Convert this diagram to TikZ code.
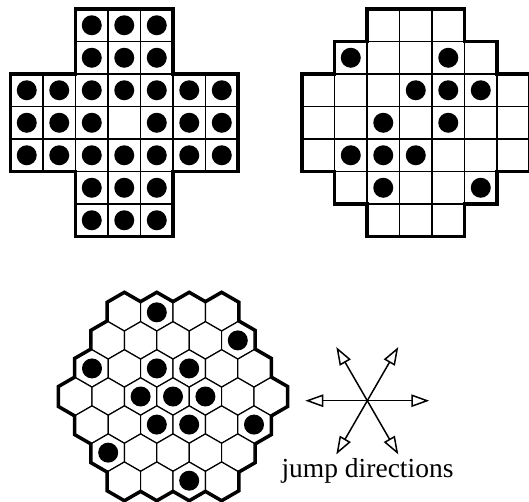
\documentclass[tikz,border=0pt]{standalone}
\usepackage{fontspec}
\setmainfont{Liberation Serif}
\usetikzlibrary{arrows.meta}
\tikzset{
  gridcell/.style={draw=black,line width=1.2pt},
  outline/.style={draw=black,line width=3.4pt,line join=miter},
  peg/.style={fill=black},
  hexthick/.style={draw=black,line width=5.8pt},
  hexcell/.style={fill=white,draw=black,line width=1.2pt},
  jumparrow/.style={draw=black,line width=1.5pt,-{Triangle[open,length=18pt,width=12.5pt]}},
}
\newcommand\hexcells[1]{%
  \foreach \r in {0,...,6}{%
    \pgfmathtruncatemacro\n{7-abs(\r-3)}%
    \foreach \i in {1,...,\n}{%
      \pgfmathsetmacro\hx{173+(\i-1-(\n-1)/2)*32.4}%
      \pgfmathsetmacro\hy{396.5+(\r-3)*28.06}%
      \path[#1] (\hx,\hy) ++(0,-18.706) -- ++(16.2,9.353) -- ++(0,18.706) -- ++(-16.2,9.353) -- ++(-16.2,-9.353) -- ++(0,-18.706) -- cycle;
    }%
  }%
}
\begin{document}
\begin{tikzpicture}[x=1pt,y=-1pt]
\useasboundingbox (0,0) rectangle (529,501);
% ---------- board 1: English cross ----------
\begin{scope}[xshift=10.5pt,yshift=-9pt,x=32.5pt,y=-32.5pt]
  \foreach \r/\a/\b in {0/2/4,1/2/4,2/0/6,3/0/6,4/0/6,5/2/4,6/2/4}{
    \foreach \c in {\a,...,\b}{
      \draw[gridcell] (\c,\r) rectangle ++(1,1);
      \ifnum\r\c=33 \else \fill[peg] (\c+.5,\r+.5) circle[radius=10pt]; \fi
    }
  }
  \draw[outline] (2,0)--(5,0)--(5,2)--(7,2)--(7,5)--(5,5)--(5,7)--(2,7)--(2,5)--(0,5)--(0,2)--(2,2)--cycle;
\end{scope}
% ---------- board 2: French board ----------
\begin{scope}[xshift=302pt,yshift=-9pt,x=32.5pt,y=-32.5pt]
  \foreach \r/\a/\b in {0/2/4,1/1/5,2/0/6,3/0/6,4/0/6,5/1/5,6/2/4}{
    \foreach \c in {\a,...,\b}{
      \draw[gridcell] (\c,\r) rectangle ++(1,1);
    }
  }
  \foreach \r/\c in {1/1,1/4,2/3,2/4,2/5,3/2,3/4,4/1,4/2,4/3,5/2,5/5}{
    \fill[peg] (\c+.5,\r+.5) circle[radius=10pt];
  }
  \draw[outline] (2,0)--(5,0)--(5,1)--(6,1)--(6,2)--(7,2)--(7,5)--(6,5)--(6,6)--(5,6)--(5,7)--(2,7)--(2,6)--(1,6)--(1,5)--(0,5)--(0,2)--(1,2)--(1,1)--(2,1)--cycle;
\end{scope}
% ---------- board 3: hexagonal ----------
\hexcells{hexthick}
\hexcells{hexcell}
\foreach \r/\i in {0/1,1/4,2/0,2/2,2/3,3/2,3/3,3/4,4/2,4/3,4/5,5/0,6/2}{
  \pgfmathtruncatemacro\n{7-abs(\r-3)}
  \pgfmathsetmacro\hx{173+(\i-(\n-1)/2)*32.4}
  \pgfmathsetmacro\hy{396.5+(\r-3)*28.06}
  \fill[peg] (\hx,\hy) circle[radius=10pt];
}
% ---------- jump directions ----------
\coordinate (ctr) at (367.3,400.7);
\foreach \a in {0,60,...,300}{
  \draw[jumparrow] (ctr) -- ++(\a:62);
}
\node[anchor=base,inner sep=0pt,font=\fontsize{27.5}{31}\selectfont] (label) at (367.5,477.5) {jump directions};
\end{tikzpicture}
\end{document}
